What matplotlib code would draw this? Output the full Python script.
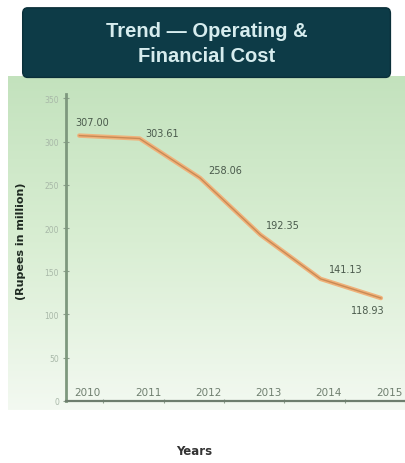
import matplotlib
matplotlib.use("Agg")
import matplotlib.pyplot as plt
from matplotlib.patches import FancyBboxPatch
from matplotlib.colors import LinearSegmentedColormap
import numpy as np

years = ["2010", "2011", "2012", "2013", "2014", "2015"]
cost = [307.00, 303.61, 258.06, 192.35, 141.13, 118.93]
cost_labels = ["307.00", "303.61", "258.06", "192.35", "141.13", "118.93"]
y_ticks = [0, 50, 100, 150, 200, 250, 300, 350]

# where each value label sits relative to its point (pixels)
label_offsets = [(-4, 14), (6, 6), (8, 8), (6, 10), (8, 10), (-30, -12)]

fig = plt.figure(figsize=(4.05, 4.64), dpi=100)

# green gradient panel behind the chart
bg = fig.add_axes([0.02, 0.115, 0.98, 0.72], zorder=0)
grad = np.linspace(0, 1, 256).reshape(-1, 1)
cmap = LinearSegmentedColormap.from_list("bg", ["#c3e2bd", "#d9eed3", "#f3f9f1"])
bg.imshow(grad, aspect="auto", cmap=cmap, extent=[0, 1, 0, 1])
bg.axis("off")

# title box
fig.patches.append(FancyBboxPatch((0.06, 0.835), 0.90, 0.142,
                                  boxstyle="round,pad=0.004,rounding_size=0.012",
                                  transform=fig.transFigure, facecolor="#0d3b47",
                                  edgecolor="#0a2f39", zorder=1))
fig.text(0.51, 0.906, "Trend \u2014 Operating &\nFinancial Cost", ha="center", va="center",
         color="#d6ecee", fontsize=14.5, fontweight="bold", family="Liberation Sans",
         linespacing=1.4, zorder=2)

ax = fig.add_axes([0.163, 0.134, 0.837, 0.661], zorder=1)
ax.patch.set_alpha(0)
x = np.arange(len(years))
ax.plot(x, cost, color="#f0b27a", lw=3.2, solid_capstyle="round", zorder=3)
ax.plot(x, cost, color="#c98a55", lw=1.0, zorder=4)

for i, (lbl, off) in enumerate(zip(cost_labels, label_offsets)):
    ax.annotate(lbl, (x[i], cost[i]), xytext=off, textcoords="offset pixels",
                fontsize=7, color="#4a5a4c", ha="left", va="center", zorder=5)

# year labels sit inside the plot just above the axis line
for i, yr in enumerate(years):
    ax.text(x[i] - 0.08, 4, yr, fontsize=7.5, color="#6f7f6f", ha="left", va="bottom")

ax.set_xlim(-0.22, 5.08)
ax.set_ylim(0, 355)
ax.set_xticks(x + 0.4)
ax.set_xticklabels([])
ax.tick_params(axis="x", length=3, color="#8ea08e", direction="inout")
ax.set_yticks(y_ticks)
ax.set_yticklabels([str(v) for v in y_ticks], fontsize=5.5, color="#a8b8a8")
ax.tick_params(axis="y", length=4, color="#8ea08e", direction="inout", pad=3)

for side in ["top", "right"]:
    ax.spines[side].set_visible(False)
ax.spines["left"].set_color("#7e987e")
ax.spines["left"].set_linewidth(2)
ax.spines["bottom"].set_color("#6e7e6e")
ax.spines["bottom"].set_linewidth(1.6)

fig.text(0.052, 0.48, "(Rupees in million)", rotation=90, ha="center", va="center",
         fontsize=8, fontweight="bold", color="#1f2a22")
fig.text(0.48, 0.026, "Years", ha="center", va="center",
         fontsize=8.5, fontweight="bold", color="#333333")

fig.savefig("out.png", dpi=100)
